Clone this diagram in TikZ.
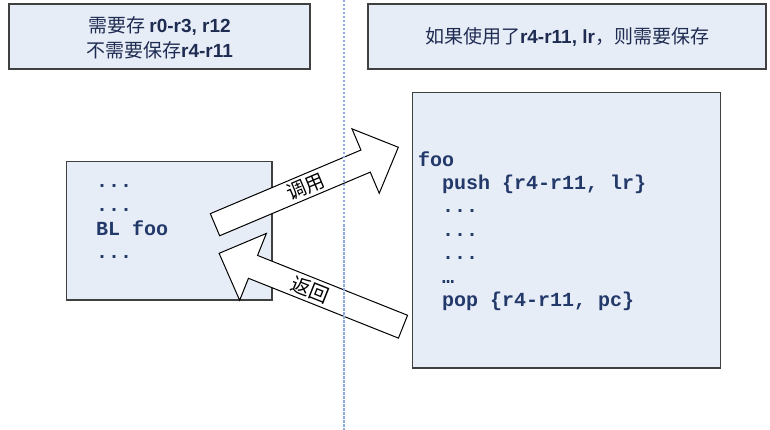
\documentclass[tikz,border=0pt]{standalone}
\usepackage{fontspec}
\newfontfamily\cjkfont{Noto Sans CJK SC}
\newfontfamily\latfont{Liberation Sans}
\newfontfamily\codefont{Liberation Mono}
\definecolor{boxfill}{HTML}{E7EDF7}
\definecolor{boxborder}{HTML}{404040}
\definecolor{codecol}{HTML}{22396A}
\definecolor{txtcol}{HTML}{1F2C52}
\definecolor{dashcol}{HTML}{8EAADB}
\begin{document}
\begin{tikzpicture}[x=1pt,y=-1pt,
  panel/.style={draw=boxborder, fill=boxfill, line width=1.3pt, inner sep=0pt},
  codeline/.style={anchor=base west, inner sep=0pt, text=codecol,
    font=\codefont\bfseries\fontsize{20}{23}\selectfont},
  toptext/.style={text=txtcol, align=center, inner sep=0pt,
    font=\cjkfont\fontsize{19}{25}\selectfont},
  blockarrow/.style={draw=black, fill=white, line width=1pt, line join=miter},
  arrowlabel/.style={inner sep=0pt, font=\cjkfont\fontsize{19.5}{19.5}\selectfont},
  divider/.style={draw=dashcol, line width=1.6pt, dash pattern=on 2.5pt off 1.5pt}
]
\useasboundingbox (0,0) rectangle (770,430);

% top panels
\node[panel, minimum width=301pt, minimum height=65pt] (topL) at (159.5,36.5) {};
\node[toptext] (topLtext) at ([yshift=-1.5pt]topL.center)
  {需要存 {\latfont\bfseries r0-r3, r12}\\不需要保存{\latfont\bfseries r4-r11}};
\node[panel, minimum width=398pt, minimum height=65pt] (topR) at (567,36.5) {};
\node[toptext] (topRtext) at (topR.center)
  {如果使用了{\latfont\bfseries r4-r11, lr}，则需要保存};

% code panels
\node[panel, minimum width=205.5pt, minimum height=138.5pt] (caller) at (169.25,230.75) {};
\node[panel, minimum width=308pt, minimum height=275.3pt] (callee) at (566.7,230.35) {};

% caller code
\node[codeline] (a1) at (96,187.7) {...};
\node[codeline] (a2) at (96,211.4) {...};
\node[codeline] (a3) at (96,235.1) {BL foo};
\node[codeline] (a4) at (96,258.8) {...};

% callee code
\node[codeline] (b1) at (418,166.3) {foo};
\node[codeline] (b2) at (442,189.7) {push \{r4-r11, lr\}};
\node[codeline] (b3) at (442,213.0) {...};
\node[codeline] (b4) at (442,236.4) {...};
\node[codeline] (b5) at (442,259.8) {...};
\node[codeline] (b6) at (442,283.2) {…};
\node[codeline] (b7) at (442,306.6) {pop \{r4-r11, pc\}};

% call arrow
\begin{scope}[shift={(215,224.7)}, rotate=22.9]
  \draw[blockarrow] (0,-12) -- (163.5,-12) -- (163.5,-35) -- (199,0)
    -- (163.5,35) -- (163.5,12) -- (0,12) -- cycle;
  \node[arrowlabel, rotate=22.9] (calllbl) at (98,0) {调用};
\end{scope}

% return arrow
\begin{scope}[shift={(403,326.7)}, rotate=158.25]
  \draw[blockarrow] (0,-12.3) -- (161.5,-12.3) -- (161.5,-36) -- (198,0)
    -- (161.5,36) -- (161.5,12.3) -- (0,12.3) -- cycle;
  \node[arrowlabel, rotate=-21.75] (retlbl) at (100,0) {返回};
\end{scope}

% divider
\coordinate (dtop) at (344,0);
\coordinate (dbot) at (344,430);
\draw[divider] (dtop) -- (dbot);
\end{tikzpicture}
\end{document}
